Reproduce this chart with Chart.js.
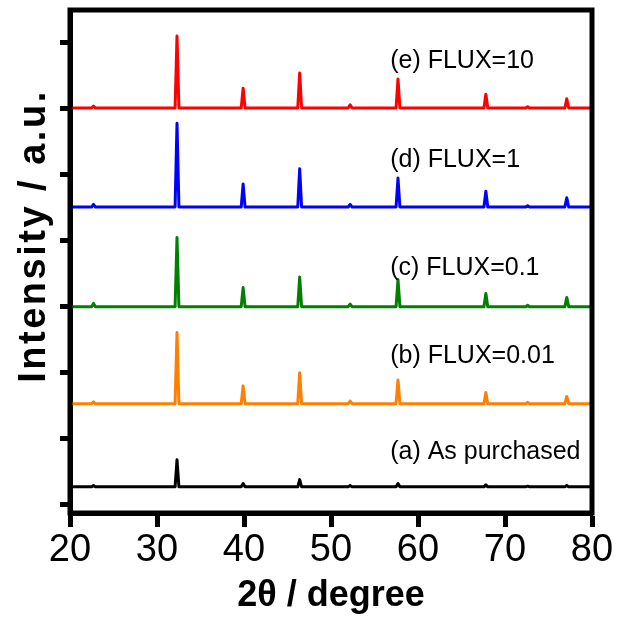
<!DOCTYPE html>
<html>
<head>
<meta charset="utf-8">
<script src="https://cdn.jsdelivr.net/npm/chart.js@4.4.1/dist/chart.umd.min.js"></script>
<style>
  html, body { margin: 0; padding: 0; background: #fff; }
  #wrap { width: 620px; height: 619px; }
</style>
</head>
<body>
<div id="wrap"><canvas id="xrd"></canvas></div>
<script>
// 2theta positions of the reflections
const peakPos = [22.7, 32.3, 39.9, 46.4, 52.2, 57.7, 67.8, 72.6, 77.1];

// peak heights above each baseline
const asPurchased = [0.02, 0.41, 0.05, 0.11, 0.02, 0.05, 0.03, 0.01, 0.02];
const flux001     = [0.03, 1.08, 0.27, 0.47, 0.04, 0.36, 0.17, 0.02, 0.11];
const flux01      = [0.05, 1.05, 0.29, 0.45, 0.04, 0.41, 0.20, 0.02, 0.14];
const flux1       = [0.04, 1.27, 0.35, 0.58, 0.04, 0.44, 0.24, 0.02, 0.14];
const flux10      = [0.03, 1.09, 0.30, 0.53, 0.05, 0.44, 0.21, 0.02, 0.14];

// vertical offsets of the stacked patterns
const offsets = [0.26, 1.52, 2.99, 4.50, 6.00];
const labels  = ['(a) As purchased', '(b) FLUX=0.01', '(c) FLUX=0.1', '(d) FLUX=1', '(e) FLUX=10'];
const labelY  = [0.79, 2.24, 3.58, 5.21, 6.71];
const labelX  = 56.8;
const colors  = ['#000000', '#ff8000', '#008000', '#0000ff', '#ff0000'];

const xTicks = [20, 30, 40, 50, 60, 70, 80];
const yTicks = [0, 1, 2, 3, 4, 5, 6, 7];

const FONT = "'Liberation Sans', Arial, Helvetica, sans-serif";

function pattern(heights, base) {
    const pts = [{ x: 20, y: base }];
    peakPos.forEach((p, i) => {
        pts.push({ x: p - 0.22, y: base });
        pts.push({ x: p, y: base + heights[i] });
        pts.push({ x: p + 0.22, y: base });
    });
    pts.push({ x: 80, y: base });
    return pts;
}

const series = [asPurchased, flux001, flux01, flux1, flux10];

const frame = {
    id: 'frame',
    afterDatasetsDraw(chart) {
        const { ctx, chartArea: a, scales } = chart;
        ctx.save();
        ctx.strokeStyle = '#000';
        ctx.lineWidth = 5;
        ctx.strokeRect(a.left, a.top, a.right - a.left, a.bottom - a.top);

        ctx.fillStyle = '#000';
        ctx.font = '25px ' + FONT;
        ctx.textAlign = 'left';
        ctx.textBaseline = 'middle';
        labels.forEach((t, i) => {
            ctx.fillText(t, scales.x.getPixelForValue(labelX), scales.y.getPixelForValue(labelY[i]));
        });

        // y title, set a bit above the middle as in the original
        ctx.translate(35, 236);
        ctx.rotate(-Math.PI / 2);
        ctx.font = 'bold 38px ' + FONT;
        ctx.letterSpacing = '2.5px';
        ctx.textAlign = 'center';
        ctx.fillText('Intensity / a.u.', 0, 0);
        ctx.restore();
    }
};

new Chart(document.getElementById('xrd'), {
    type: 'scatter',
    data: {
        datasets: series.map((h, i) => ({
            data: pattern(h, offsets[i]),
            showLine: true,
            borderColor: colors[i],
            borderWidth: 3,
            pointRadius: 0,
            tension: 0,
            borderJoinStyle: 'round'
        }))
    },
    options: {
        responsive: true,
        maintainAspectRatio: false,
        animation: false,
        layout: { padding: { left: 0, top: 10, right: 28, bottom: 0 } },
        plugins: { legend: { display: false }, tooltip: { enabled: false } },
        scales: {
            x: {
                type: 'linear',
                min: 20, max: 80,
                afterBuildTicks: s => { s.ticks = xTicks.map(v => ({ value: v })); },
                afterFit: s => { s.height = 106; },
                grid: { drawOnChartArea: false, drawTicks: true, tickLength: 14, tickWidth: 5, tickColor: '#000' },
                border: { display: true, color: '#000', width: 5 },
                ticks: { color: '#000', font: { family: FONT, size: 38 }, padding: 1, maxRotation: 0 },
                title: { display: true, text: '2θ / degree', color: '#000', font: { family: FONT, size: 36, weight: 'bold' }, padding: { top: 0, bottom: 1 } }
            },
            y: {
                type: 'linear',
                min: -0.136, max: 7.485,
                afterBuildTicks: s => { s.ticks = yTicks.map(v => ({ value: v })); },
                afterFit: s => { s.width = 70; },
                grid: { drawOnChartArea: false, drawTicks: true, tickLength: 10, tickWidth: 5, tickColor: '#000' },
                border: { display: true, color: '#000', width: 5 },
                ticks: { display: false }
            }
        }
    },
    plugins: [frame]
});
</script>
</body>
</html>
